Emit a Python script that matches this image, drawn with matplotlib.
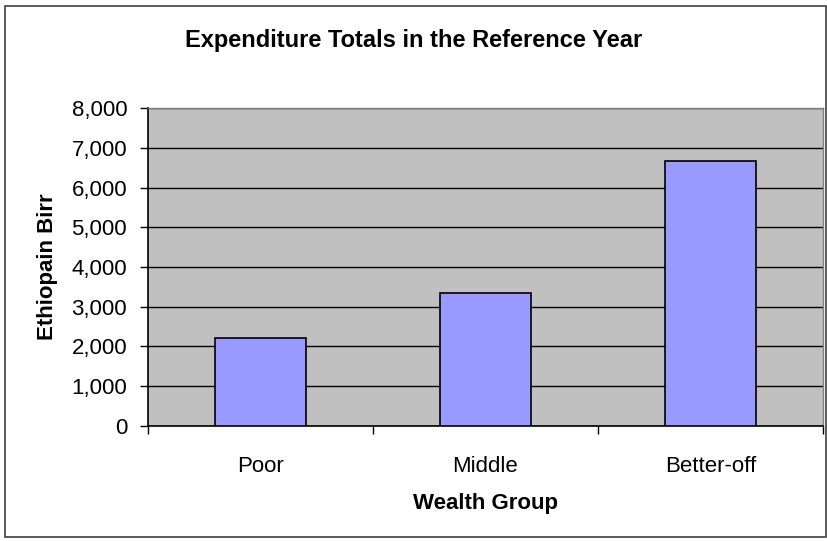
import matplotlib.pyplot as plt
from matplotlib.patches import Rectangle
from matplotlib.ticker import FuncFormatter, FixedLocator

groups = ['Poor', 'Middle', 'Better-off']
totals = [2200, 3340, 6670]

plt.rcParams['font.family'] = ['Liberation Sans', 'DejaVu Sans']

fig = plt.figure(figsize=(8.28, 5.41), dpi=100)

# chart area border
fig.patches.append(Rectangle((5 / 828, 1 - 537 / 541), 821 / 828, 531 / 541,
                             transform=fig.transFigure, fill=False,
                             edgecolor='#404040', linewidth=1.2))

ax = fig.add_axes([148 / 828, 1 - 425.7 / 541, 675 / 828, 317.4 / 541])
ax.set_facecolor('#C0C0C0')

x = range(len(groups))
ax.bar(x, totals, width=0.404, color='#9999FF', edgecolor='black',
       linewidth=1.2, zorder=3)

ax.set_xlim(-0.5, 2.5)
ax.set_ylim(0, 8000)
ax.set_yticks(range(0, 8001, 1000))
ax.yaxis.set_major_formatter(FuncFormatter(lambda v, p: f'{int(v):,}'))
ax.yaxis.grid(True, color='black', linewidth=1.0, zorder=1)

ax.set_xticks(list(x))
ax.set_xticklabels(groups)
ax.xaxis.set_minor_locator(FixedLocator([-0.5, 0.5, 1.5, 2.5]))
ax.tick_params(axis='x', which='major', length=0, pad=22, labelsize=16)
ax.tick_params(axis='x', which='minor', length=6, width=1, color='black')
ax.tick_params(axis='y', length=6, width=1, labelsize=16, pad=9)

for side in ['left', 'bottom']:
    ax.spines[side].set_color('black')
    ax.spines[side].set_linewidth(1.2)
for side in ['top', 'right']:
    ax.spines[side].set_color('#808080')
    ax.spines[side].set_linewidth(1.0)

ax.set_xlabel('Wealth Group', fontsize=16, fontweight='bold', labelpad=11)
ax.set_ylabel('Ethiopain Birr', fontsize=16, fontweight='bold', labelpad=10)

fig.text(0.5, 1 - 40 / 541, 'Expenditure Totals in the Reference Year',
         ha='center', va='center', fontsize=17, fontweight='bold')

fig.savefig('out.png', dpi=100)
